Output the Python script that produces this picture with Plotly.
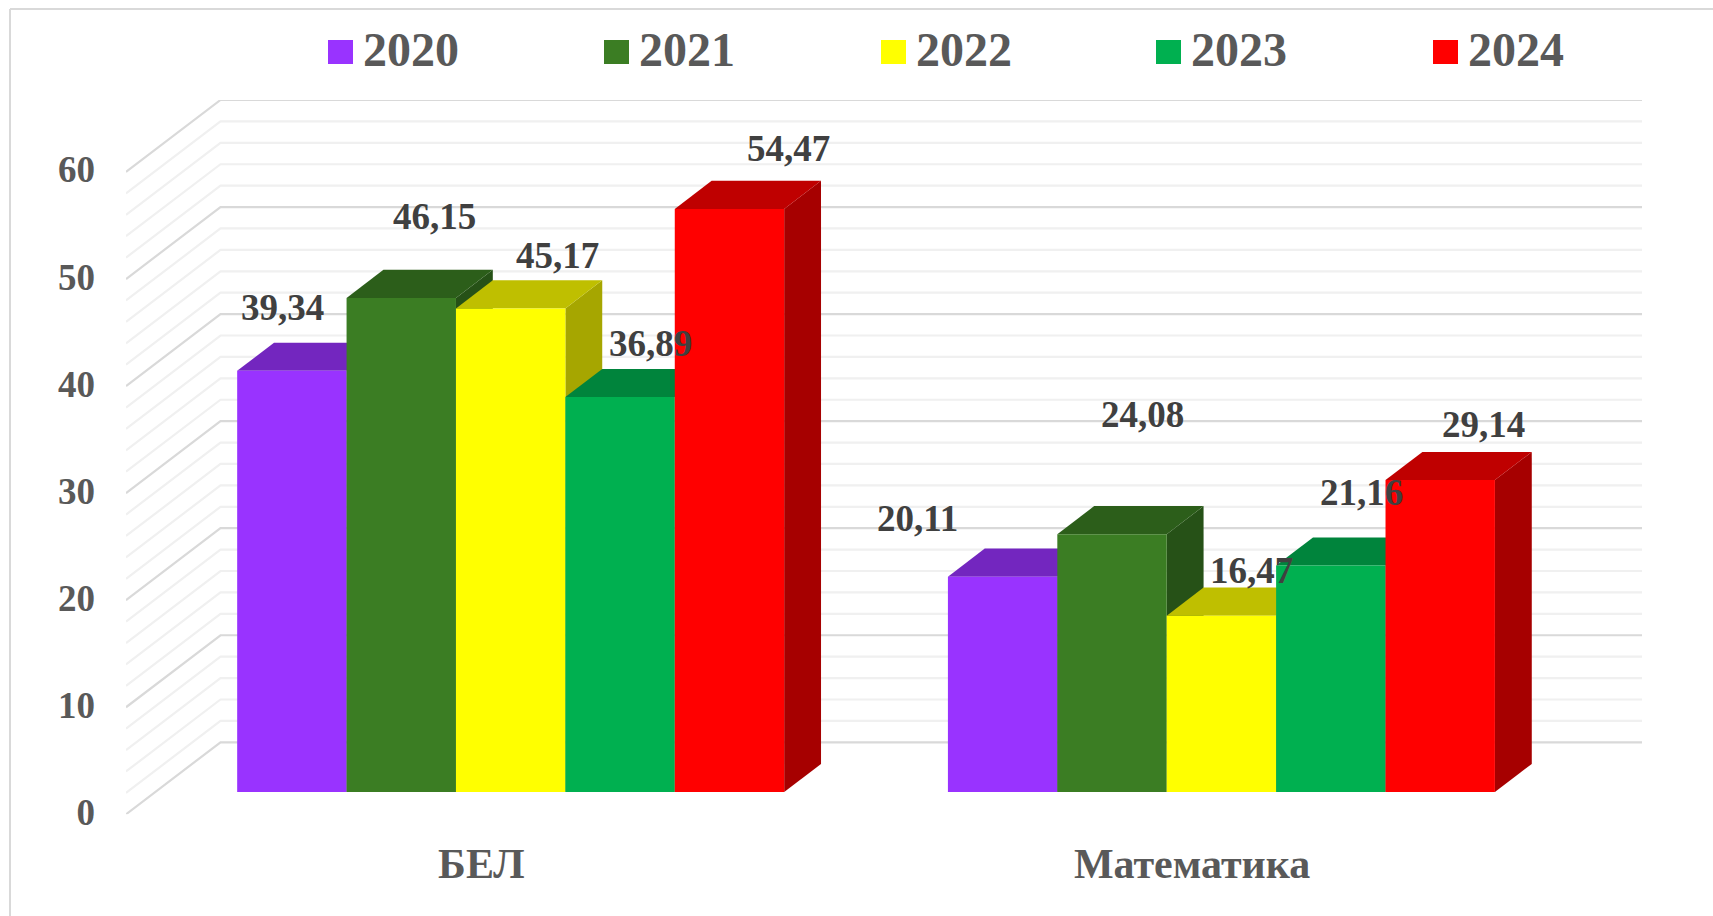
import plotly.graph_objects as go

# ---------- data ----------
CATEGORIES = ["БЕЛ", "Математика"]
YEARS = ["2020", "2021", "2022", "2023", "2024"]
VALUES_2020 = [39.34, 20.11]
VALUES_2021 = [46.15, 24.08]
VALUES_2022 = [45.17, 16.47]
VALUES_2023 = [36.89, 21.16]
VALUES_2024 = [54.47, 29.14]
SERIES = [VALUES_2020, VALUES_2021, VALUES_2022, VALUES_2023, VALUES_2024]
COLORS = ["#9933FF", "#3B7D23", "#FFFF00", "#00B050", "#FF0000"]
TOP_COLORS = ["#7326BF", "#2C5E1A", "#BFBF00", "#00843C", "#BF0000"]
SIDE_COLORS = ["#6421A6", "#265117", "#A6A600", "#007234", "#A60000"]
Y_TICKS = [0, 10, 20, 30, 40, 50, 60]
Y_MINOR = [2, 4, 6, 8, 12, 14, 16, 18, 22, 24, 26, 28, 32, 34, 36, 38, 42, 44, 46, 48, 52, 54, 56, 58]
# label offsets from the top-front centre of each bar, px (right, down)
LABEL_DX = [[-9.0, -85.5], [33.3, 30.7], [46.7, 30.0], [30.6, 30.3], [59.4, 43.2]]
LABEL_DY = [[-63.2, -58.6], [-81, -119.6], [-53.2, -45.6], [-53.6, -72.7], [-59.9, -55.4]]
LEGEND_SWATCH_X = [328, 604, 881, 1156, 1433]

# ---------- layout geometry ----------
W, H = 1713, 916
PLOT_L, PLOT_R, PLOT_T, PLOT_B = 126, 1642, 100, 814.3
DEPTH_PX_X, DEPTH_PX_Y = 94.5, 72
UNIT_PX_X = (PLOT_R - PLOT_L - DEPTH_PX_X) / 2
UNIT_PX_Y = (PLOT_B - PLOT_T - DEPTH_PX_Y) / 60
DX = DEPTH_PX_X / UNIT_PX_X     # full-depth shift in x data units
DY = DEPTH_PX_Y / UNIT_PX_Y     # full-depth shift in y data units
D_FRONT, D_BACK = 0.31, 0.70
BAR_W = 109.4 / UNIT_PX_X
TICK_LABEL_LIFT = 2.5 / UNIT_PX_Y  # seats the tick text on its gridline end

fig = go.Figure()

def wall_line(v, color, width):
    fig.add_trace(go.Scatter(
        x=[0, DX, 2 + DX], y=[v, v + DY, v + DY], mode="lines",
        line=dict(color=color, width=width), hoverinfo="skip", showlegend=False, zorder=-1))

for v in Y_MINOR:
    wall_line(v, "#F0F0F0", 2.2)
for v in Y_TICKS:
    wall_line(v, "#D9D9D9", 2.2)

annotations = []
for s, (year, vals) in enumerate(zip(YEARS, SERIES)):
    centers = [c + 0.5 + (s - 2) * BAR_W + D_FRONT * DX for c in range(len(CATEGORIES))]
    base = D_FRONT * DY
    d = D_BACK - D_FRONT
    for cx, v in zip(centers, vals):
        x0, x1 = cx - BAR_W / 2, cx + BAR_W / 2
        top = base + v
        fig.add_trace(go.Scatter(
            x=[x1, x1 + d * DX, x1 + d * DX, x1, x1],
            y=[base, base + d * DY, top + d * DY, top, base],
            mode="lines", fill="toself", fillcolor=SIDE_COLORS[s], line=dict(width=0),
            hoverinfo="skip", showlegend=False, zorder=2 * s))
        fig.add_trace(go.Scatter(
            x=[x0, x0 + d * DX, x1 + d * DX, x1, x0],
            y=[top, top + d * DY, top + d * DY, top, top],
            mode="lines", fill="toself", fillcolor=TOP_COLORS[s], line=dict(width=0),
            hoverinfo="skip", showlegend=False, zorder=2 * s))
    fig.add_trace(go.Bar(
        x=centers, y=vals, base=base, width=BAR_W, name=year,
        marker=dict(color=COLORS[s], line=dict(width=0)), showlegend=False, zorder=2 * s + 1))
    for i, (cx, v) in enumerate(zip(centers, vals)):
        annotations.append(dict(
            x=cx, y=base + v, xref="x", yref="y",
            text=f"{v:.2f}".replace(".", ","), showarrow=False,
            xanchor="center", yanchor="middle",
            xshift=LABEL_DX[s][i], yshift=-LABEL_DY[s][i],
            font=dict(family="Liberation Serif", size=37, color="#404040", weight=700)))
    # legend entry
    annotations.append(dict(
        x=(LEGEND_SWATCH_X[s] + 33) / W, y=1 - 50 / H, xref="paper", yref="paper",
        text=year, showarrow=False, xanchor="left", yanchor="middle",
        font=dict(family="Liberation Serif", size=48, color="#595959", weight=700)))

shapes = [
    dict(type="line", xref="paper", yref="paper", x0=10 / W, x1=1, y0=1 - 9 / H, y1=1 - 9 / H,
         line=dict(color="#D9D9D9", width=2)),
    dict(type="line", xref="paper", yref="paper", x0=10 / W, x1=10 / W, y0=0, y1=1 - 9 / H,
         line=dict(color="#D9D9D9", width=2)),
]
for s, sx in enumerate(LEGEND_SWATCH_X):
    shapes.append(dict(type="rect", xref="paper", yref="paper",
                       x0=sx / W, x1=(sx + 25) / W, y0=1 - 64 / H, y1=1 - 40 / H,
                       fillcolor=COLORS[s], line=dict(width=0)))

fig.update_layout(
    width=W, height=H, autosize=False,
    margin=dict(l=0, r=0, t=0, b=0),
    paper_bgcolor="white", plot_bgcolor="white",
    barmode="overlay", showlegend=False,
    annotations=annotations, shapes=shapes,
    xaxis=dict(domain=[PLOT_L / W, PLOT_R / W], range=[0, 2 + DX], automargin=False,
               tickmode="array", tickvals=[0.5, 1.5], ticktext=CATEGORIES,
               showgrid=False, zeroline=False, showline=False, ticks="",
               ticklabelstandoff=21,
               tickfont=dict(family="Liberation Serif", size=42, color="#595959", weight=700)),
    yaxis=dict(domain=[1 - PLOT_B / H, 1 - PLOT_T / H], range=[0, 60 + DY], automargin=False,
               tickmode="array", tickvals=[t + TICK_LABEL_LIFT for t in Y_TICKS],
               ticktext=[str(t) for t in Y_TICKS],
               showgrid=False, zeroline=False, showline=False, ticks="",
               ticklabelstandoff=30,
               tickfont=dict(family="Liberation Serif", size=37, color="#595959", weight=700)),
)

fig.write_html("out.html", post_script="document.body.style.margin='0';",
               config={"displayModeBar": False})
